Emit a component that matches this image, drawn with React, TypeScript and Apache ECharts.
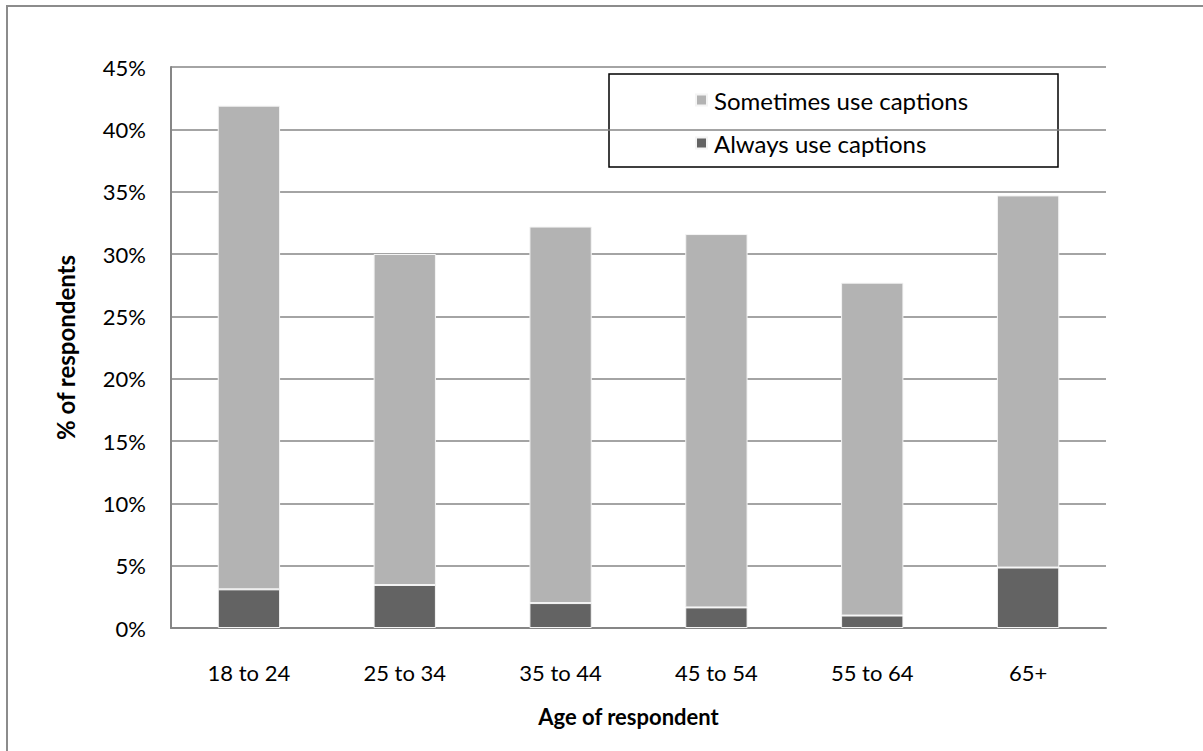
import React, { useEffect, useRef } from "react";
import * as echarts from "echarts";

const categories = ["18 to 24", "25 to 34", "35 to 44", "45 to 54", "55 to 64", "65+"];
const alwaysUse = [3.1, 3.45, 2.0, 1.65, 1.0, 4.85];
const sometimesUse = [38.8, 26.55, 30.2, 29.95, 26.7, 29.85];
const seriesNames = ["Sometimes use captions", "Always use captions"];

const FONT = "Lato, 'Open Sans', sans-serif";

export default function App() {
  const ref = useRef<HTMLDivElement>(null);
  useEffect(() => {
    if (!ref.current) return;
    const chart = echarts.init(ref.current, null, { renderer: "svg" });
    chart.setOption({
      animation: false,
      backgroundColor: "#ffffff",
      textStyle: { fontFamily: FONT, color: "#000" },
      grid: { left: 171, right: 97, top: 67, bottom: 123, containLabel: false },
      legend: {
        data: [seriesNames[0], seriesNames[1]],
        orient: "vertical",
        left: 690,
        top: 83,
        itemWidth: 11,
        itemHeight: 11,
        itemGap: 19,
        icon: "rect",
        textStyle: { fontFamily: FONT, fontSize: 24, color: "#000", padding: [0, 0, 0, 2] },
      },
      xAxis: {
        type: "category",
        data: categories,
        axisTick: { show: false },
        axisLine: { lineStyle: { color: "#868686", width: 2 } },
        axisLabel: { fontFamily: FONT, fontSize: 22, color: "#000", margin: 33 },
        name: "Age of respondent",
        nameLocation: "middle",
        nameGap: 77,
        nameTextStyle: {
          fontFamily: FONT,
          fontSize: 22,
          fontWeight: "bold",
          color: "#000",
          padding: [0, 20, 0, 0],
        },
      },
      yAxis: {
        type: "value",
        min: 0,
        max: 45,
        interval: 5,
        axisLine: { show: true, lineStyle: { color: "#868686", width: 2 } },
        axisTick: { show: false },
        splitLine: { lineStyle: { color: "#868686", width: 1.5 } },
        axisLabel: { fontFamily: FONT, fontSize: 22, color: "#000", margin: 25, formatter: "{value}%" },
        name: "% of respondents",
        nameLocation: "middle",
        nameGap: 94,
        nameRotate: 90,
        nameTextStyle: { fontFamily: FONT, fontSize: 24, fontWeight: "bold", color: "#000" },
      },
      series: [
        {
          name: seriesNames[1],
          type: "bar",
          stack: "total",
          data: alwaysUse,
          barWidth: "40%",
          itemStyle: { color: "#636363", borderColor: "#f4f4f4", borderWidth: 1 },
        },
        {
          name: seriesNames[0],
          type: "bar",
          stack: "total",
          data: sometimesUse,
          barWidth: "40%",
          itemStyle: { color: "#b3b3b3", borderColor: "#f4f4f4", borderWidth: 1 },
        },
      ],
      graphic: [
        {
          type: "rect",
          z: -1,
          shape: { x: 7, y: 6, width: 1250, height: 800 },
          style: { fill: "none", stroke: "#8c8c8c", lineWidth: 2 },
        },
        {
          type: "rect",
          z: 0,
          shape: { x: 609, y: 74, width: 449, height: 93 },
          style: { fill: "#ffffff", stroke: "#000", lineWidth: 1.5 },
        },
      ],
    });
    return () => chart.dispose();
  }, []);
  return (
    <div
      ref={ref}
      style={{ position: "absolute", left: 0, top: 0, width: 1203, height: 751 }}
    />
  );
}
